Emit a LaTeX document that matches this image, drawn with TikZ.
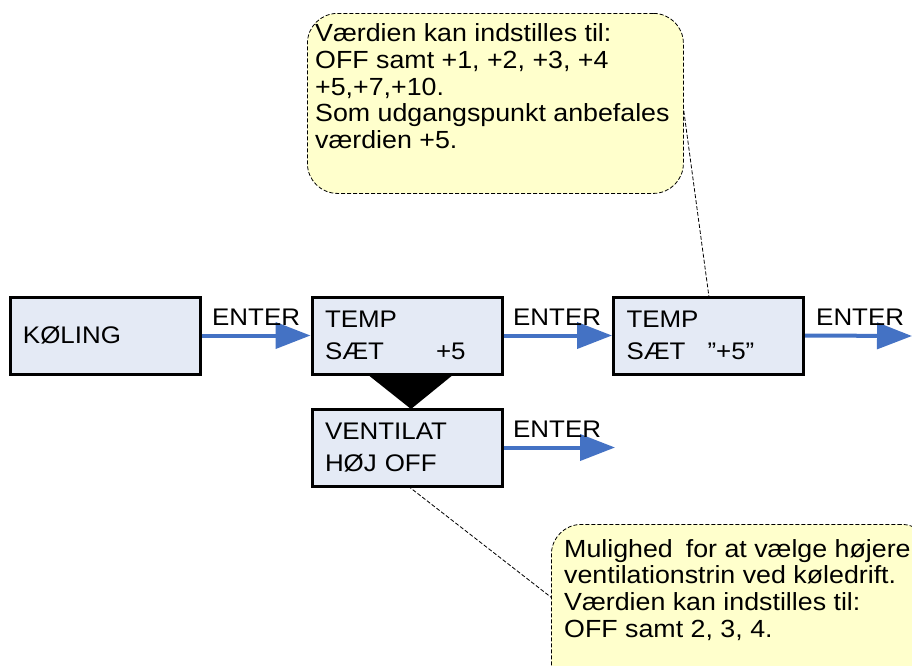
\documentclass[tikz,border=0pt]{standalone}
\usepackage{fontspec}
\setmainfont{Liberation Sans}[FakeStretch=1.08]
\usetikzlibrary{arrows.meta}
\definecolor{boxfill}{HTML}{E4EAF5}
\definecolor{arrblue}{HTML}{4472C4}
\definecolor{notefill}{HTML}{FFFFCC}
\tikzset{
  menubox/.style={draw=black, line width=3pt, fill=boxfill, minimum width=190pt, minimum height=77pt,
    text width=164pt, inner xsep=13pt, align=left, font=\fontsize{24}{32}\selectfont},
  enterarrow/.style={draw=arrblue, line width=4pt, -{Triangle[length=35pt,width=26pt]}},
  enterlbl/.style={font=\fontsize{24}{28}\selectfont, anchor=base west, inner sep=0pt},
  note/.style={draw=black, dash pattern=on 4pt off 2pt, line width=0.8pt, fill=notefill, rounded corners=30pt},
  notetext/.style={font=\fontsize{24.8}{26.7}\selectfont, align=left, anchor=north west, inner sep=0pt},
  leader/.style={draw=black, dash pattern=on 4pt off 2pt, line width=0.8pt}
}
\begin{document}
\begin{tikzpicture}[x=1pt,y=-1pt]
\useasboundingbox (0,0) rectangle (912,665);
% leaders (behind)
\coordinate (l1s) at (683,105);
\coordinate (l2e) at (552,598);
% boxes
\node[menubox] (kol) at (105,335.5) {KØLING};
\node[menubox] (t1) at (407,335.5) {TEMP\\SÆT\hspace{52pt}+5};
\node[menubox] (t2) at (708.5,335.5) {TEMP\\SÆT\hspace{22pt}”+5”};
\node[menubox] (ven) at (407,447.5) {VENTILAT\\HØJ OFF};
% leader lines
\draw[leader] (l1s) -- (709,297);
\draw[leader] (408,486) -- (l2e);
% callouts
\node[note, minimum width=376pt, minimum height=180pt, anchor=north west] (c1) at (307,13) {};
\node[notetext] (c1t) at (315,23.7) {Værdien kan indstilles til:\\OFF samt +1, +2, +3, +4\\+5,+7,+10.\\Som udgangspunkt anbefales\\værdien +5.};
\node[note, minimum width=380pt, minimum height=180pt, anchor=north west] (c2) at (551,524) {};
\node[notetext] (c2t) at (564,539) {Mulighed\hspace{13pt}for at vælge højere\\ventilationstrin ved køledrift.\\Værdien kan indstilles til:\\OFF samt 2, 3, 4.};
% arrows
\coordinate (e3) at (912,336);
\coordinate (e4) at (615,448);
\draw[enterarrow] (kol.east) -- (t1.west);
\draw[enterarrow] (t1.east) -- (t2.west);
\draw[enterarrow] (t2.east) -- (e3);
\draw[enterarrow] (ven.east) -- (e4|-ven.east);
\node[enterlbl] (en1) at (212,325) {ENTER};
\node[enterlbl] (en2) at (513,325) {ENTER};
\node[enterlbl] (en3) at (816,325) {ENTER};
\node[enterlbl] (en4) at (513,437) {ENTER};
% black triangle
\fill[black] (367,374) -- (454,374) -- (411,409) -- cycle;
\end{tikzpicture}
\end{document}
